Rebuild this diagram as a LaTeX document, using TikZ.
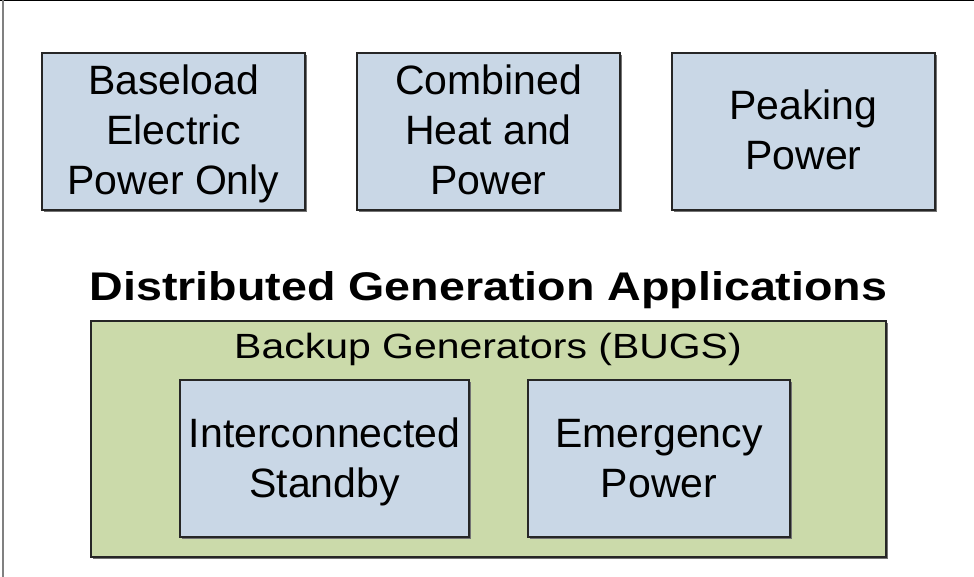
\documentclass[tikz,border=0pt]{standalone}
\usepackage{fontspec}
\setmainfont{Liberation Sans}
\begin{document}
\begin{tikzpicture}[x=1pt,y=-1pt,
  appfill/.style={fill={rgb,255:red,201;green,215;blue,230}},
  bugfill/.style={fill={rgb,255:red,203;green,218;blue,170}},
  shade/.style={fill=black!55},
  frame/.style={draw=black!85,line width=1.3pt},
  label/.style={align=center,inner sep=0pt,font=\fontsize{41}{50}\selectfont,text=black}]
\useasboundingbox (0,0) rectangle (974,577);
% partial outer frame (top and left)
\draw[black,line width=1.2pt] (0,0.6) -- (974,0.6);
\draw[black!50,line width=2.2pt] (2.6,0) -- (2.6,577);
% application boxes
\foreach \x/\n in {42/a,357/b,672/c}{
  \fill[shade] (\x+2,55) rectangle (\x+265,212);
  \path[appfill,frame] (\x,53) rectangle (\x+263,210);
  \coordinate (\n) at (\x+131.5,135);
}
\node[label] (baseload) at (a) {\strut Baseload\\\strut Electric\\\strut Power Only};
\node[label] (chp) at (b) {\strut Combined\\\strut Heat and\\\strut Power};
\node[label] (peak) at (c) {\strut Peaking\\\strut Power};
% title
\node[anchor=base,inner sep=0pt,font=\fontsize{40}{48}\selectfont\bfseries] (title) at (488.5,301)
  {\scalebox{1.165}[1]{Distributed Generation Applications}};
% backup generators group
\fill[shade] (93,323) rectangle (888,559);
\path[bugfill,frame] (91,321) rectangle (886,557);
\node[anchor=base,inner sep=0pt,font=\fontsize{35}{42}\selectfont] (bugs) at (488,358)
  {\scalebox{1.17}[1]{Backup Generators (BUGS)}};
\fill[shade] (182,382) rectangle (471,539);
\path[appfill,frame] (180,380) rectangle (469,537);
\node[label] (standby) at (324.5,462) {\strut Interconnected\\\strut Standby};
\fill[shade] (530,382) rectangle (792,539);
\path[appfill,frame] (528,380) rectangle (790,537);
\node[label] (emerg) at (659,462) {\strut Emergency\\\strut Power};
\end{tikzpicture}
\end{document}
